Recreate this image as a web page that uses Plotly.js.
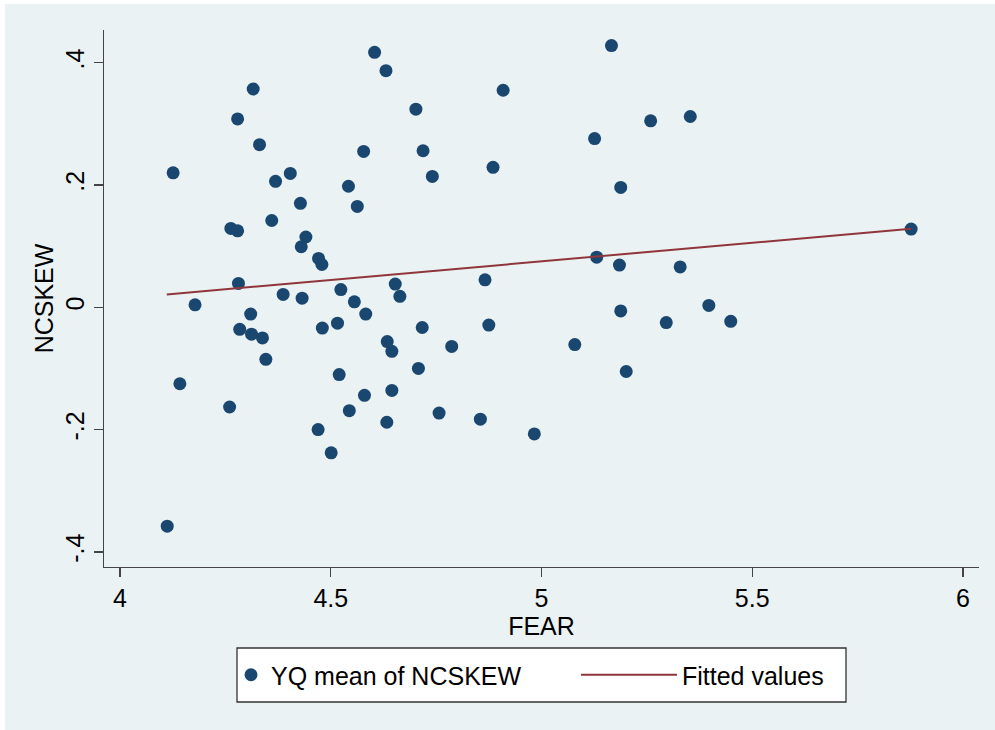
<!DOCTYPE html>
<html>
<head>
<meta charset="utf-8">
<script src="https://cdn.plot.ly/plotly-3.0.1.min.js"></script>
<style>html,body{margin:0;padding:0;background:#fff;}#chart{width:995px;height:730px;}</style>
</head>
<body>
<div id="chart"></div>
<script>
// FEAR (x) and YQ mean of NCSKEW (y)
const fear = [
  4.126, 4.316, 4.279, 4.331, 4.369, 4.404, 4.428, 4.360, 4.263, 4.279,
  4.441, 4.430, 4.471, 4.479, 4.281, 4.387, 4.432, 4.178, 4.310,
  4.604, 4.631, 4.702, 4.909, 4.578, 4.719, 4.741, 4.885, 5.126, 5.166,
  4.542, 4.563, 5.188, 5.131, 5.185, 4.866, 4.653, 4.664, 4.524, 4.556,
  4.583, 5.188,
  4.480, 4.516, 4.717, 4.875, 4.634, 4.645, 4.787, 5.079, 5.201, 4.520,
  4.708, 4.645, 4.580, 4.544, 4.757, 4.855, 4.633, 4.470, 4.501, 4.983,
  4.284, 4.312, 4.338, 4.346, 4.142, 4.260, 4.112,
  5.296, 5.397, 5.449,
  5.259, 5.353, 5.877, 5.329
];
const ncskew = [
  0.220, 0.357, 0.308, 0.266, 0.206, 0.219, 0.170, 0.142, 0.129, 0.125,
  0.115, 0.099, 0.080, 0.070, 0.039, 0.021, 0.015, 0.004, -0.011,
  0.417, 0.387, 0.324, 0.355, 0.255, 0.256, 0.214, 0.229, 0.276, 0.428,
  0.198, 0.165, 0.196, 0.082, 0.069, 0.045, 0.038, 0.018, 0.029, 0.009,
  -0.011, -0.006,
  -0.034, -0.026, -0.033, -0.029, -0.056, -0.072, -0.064, -0.061, -0.105, -0.110,
  -0.100, -0.136, -0.144, -0.169, -0.173, -0.183, -0.188, -0.200, -0.238, -0.207,
  -0.036, -0.044, -0.050, -0.085, -0.125, -0.163, -0.358,
  -0.025, 0.003, -0.023,
  0.305, 0.312, 0.128, 0.066
];
// Fitted values line end points
const fitX = [4.111, 5.877];
const fitY = [0.021, 0.1285];

const xTickVals = [4, 4.5, 5, 5.5, 6];
const xTickText = ["4", "4.5", "5", "5.5", "6"];
const yTickVals = [-0.4, -0.2, 0, 0.2, 0.4];
const yTickText = ["-.4", "-.2", "0", ".2", ".4"];

const FONT = "Liberation Sans, Arial, Helvetica, sans-serif";
const BG = "#EAF2F3";
const FS = 25;

const traces = [
  {
    type: "scatter", mode: "markers", x: fear, y: ncskew,
    name: "YQ mean of NCSKEW", legend: "legend",
    marker: {color: "#1A476F", size: 13, line: {width: 0}}
  },
  {
    type: "scatter", mode: "lines", x: fitX, y: fitY,
    name: "Fitted values", legend: "legend2",
    line: {color: "#90353B", width: 2}
  }
];

const layout = {
  width: 995, height: 730,
  paper_bgcolor: "#FFFFFF", plot_bgcolor: "#FFFFFF",
  margin: {l: 104, r: 16, t: 30, b: 163, pad: 0},
  font: {family: FONT, size: FS, color: "#000"},
  showlegend: true,
  xaxis: {
    range: [3.962, 6.038], tickvals: xTickVals, ticktext: xTickText,
    showgrid: false, zeroline: false,
    showline: true, linecolor: "#444", linewidth: 1.3,
    ticks: "outside", ticklen: 9, tickcolor: "#444", tickwidth: 1.3,
    tickfont: {family: FONT, size: FS, color: "#000"},
    title: {text: "FEAR", font: {family: FONT, size: FS, color: "#000"}, standoff: 3}
  },
  yaxis: {
    range: [-0.4247, 0.4535], tickvals: yTickVals, ticktext: yTickText,
    tickangle: -90,
    showgrid: true, gridcolor: BG, gridwidth: 2, zeroline: false,
    showline: true, linecolor: "#444", linewidth: 1.3,
    ticks: "outside", ticklen: 9, tickcolor: "#444", tickwidth: 1.3,
    tickfont: {family: FONT, size: FS, color: "#000"},
    title: {text: "NCSKEW", font: {family: FONT, size: FS, color: "#000"}, standoff: 0}
  },
  legend: {
    orientation: "h", x: (231 - 104) / 875, xanchor: "left",
    y: (567 - 675) / 537, yanchor: "middle",
    bgcolor: "rgba(0,0,0,0)", borderwidth: 0, itemwidth: 30,
    font: {family: FONT, size: FS, color: "#000"}
  },
  legend2: {
    orientation: "h", x: (576 - 104) / 875, xanchor: "left",
    y: (567 - 675) / 537, yanchor: "middle",
    bgcolor: "rgba(0,0,0,0)", borderwidth: 0, itemwidth: 96,
    font: {family: FONT, size: FS, color: "#000"}
  },
  shapes: [
    {
      type: "rect", xref: "paper", yref: "paper", layer: "below",
      x0: (5 - 104) / 875, x1: (995 - 104) / 875,
      y0: (567 - 730) / 537, y1: (567 - 4) / 537,
      fillcolor: BG, line: {width: 0}
    },
    {
      type: "rect", xref: "paper", yref: "paper", layer: "below",
      x0: (237 - 104) / 875, x1: (846 - 104) / 875,
      y0: (567 - 702) / 537, y1: (567 - 648) / 537,
      fillcolor: "#FFFFFF", line: {color: "#333", width: 1.3}
    }
  ]
};

Plotly.newPlot("chart", traces, layout, {displayModeBar: false, staticPlot: true});
</script>
</body>
</html>
